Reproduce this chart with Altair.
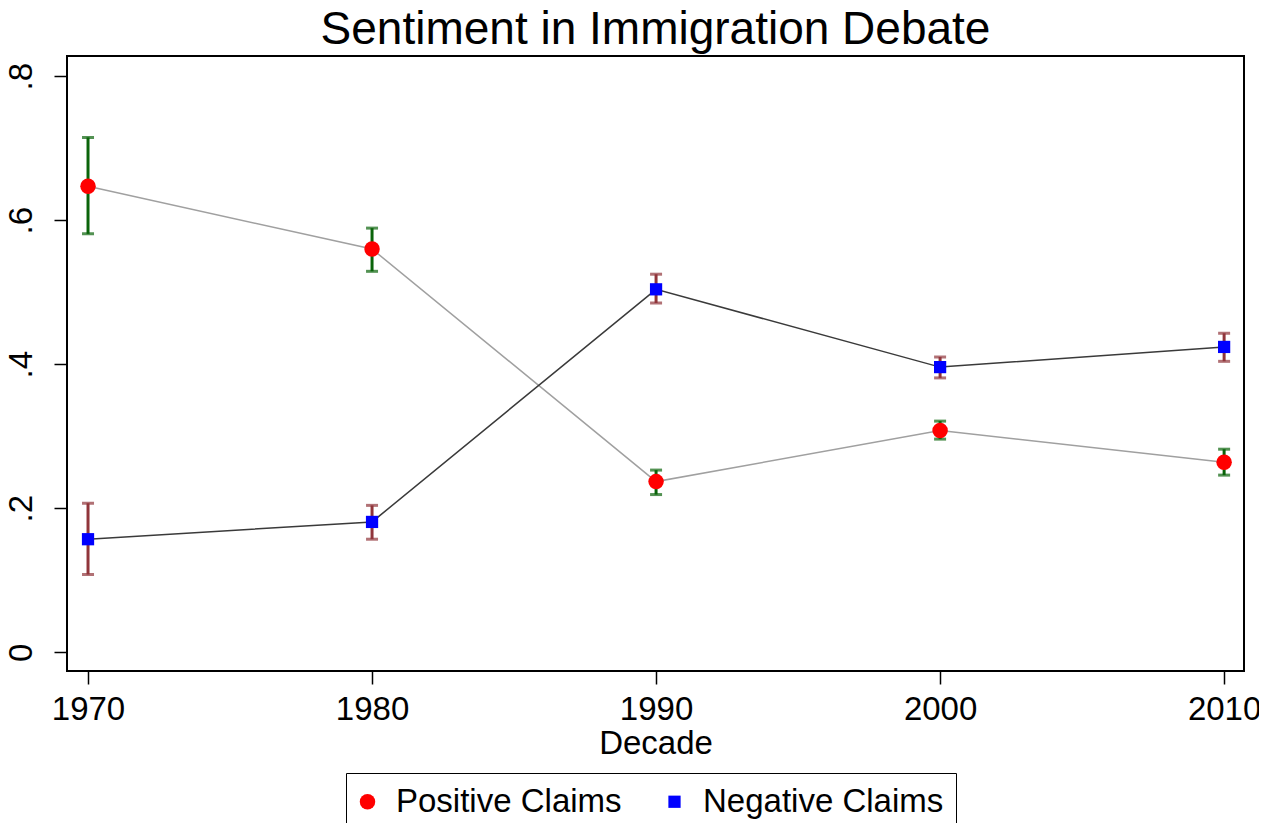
import altair as alt
import pandas as pd

decades = [1970, 1980, 1990, 2000, 2010]
pos_mean = [0.647, 0.560, 0.237, 0.308, 0.264]
pos_lo = [0.581, 0.529, 0.219, 0.296, 0.246]
pos_hi = [0.715, 0.589, 0.253, 0.321, 0.282]
neg_mean = [0.157, 0.181, 0.504, 0.396, 0.424]
neg_lo = [0.108, 0.157, 0.485, 0.381, 0.404]
neg_hi = [0.207, 0.204, 0.525, 0.410, 0.443]
series_names = ["Positive Claims", "Negative Claims"]

rows = []
for d, m, lo, hi in zip(decades, pos_mean, pos_lo, pos_hi):
    rows.append({"decade": d, "series": series_names[0], "mean": m, "lo": lo, "hi": hi})
for d, m, lo, hi in zip(decades, neg_mean, neg_lo, neg_hi):
    rows.append({"decade": d, "series": series_names[1], "mean": m, "lo": lo, "hi": hi})
df = pd.DataFrame(rows)

FONT = "Liberation Sans"
FS = 33

x = alt.X("decade:Q", title="Decade",
          scale=alt.Scale(domain=[1969.26, 2010.7], nice=False, zero=False),
          axis=alt.Axis(values=decades, format="d"))
y = alt.Y("mean:Q", title=None,
          scale=alt.Scale(domain=[-0.026, 0.828], nice=False, zero=False),
          axis=alt.Axis(values=[0, 0.2, 0.4, 0.6, 0.8], labelAngle=-90,
                        labelExpr="datum.value == 0 ? '0' : replace(format(datum.value, '.1f'), '0.', '.')"))

base = alt.Chart(df)

line_colors = {"Positive Claims": "#a0a0a0", "Negative Claims": "#3a3a3a"}
err_colors = {"Positive Claims": "#0a640a", "Negative Claims": "#90353b"}

layers = []
for s in series_names:
    layers.append(
        base.transform_filter(alt.datum.series == s)
        .mark_line(color=line_colors[s], strokeWidth=1.5)
        .encode(x=x, y=y)
    )
for s in series_names:
    f = base.transform_filter(alt.datum.series == s)
    layers.append(
        f.mark_rule(color=err_colors[s], strokeWidth=3)
        .encode(x=x, y=alt.Y("lo:Q"), y2="hi:Q")
    )
    layers.append(
        f.mark_tick(color=err_colors[s], thickness=3, size=12, orient="horizontal")
        .encode(x=x, y=alt.Y("lo:Q"))
    )
    layers.append(
        f.mark_tick(color=err_colors[s], thickness=3, size=12, orient="horizontal")
        .encode(x=x, y=alt.Y("hi:Q"))
    )

legend = alt.Legend(title=None, orient="none", legendX=279, legendY=717,
                    direction="horizontal", strokeColor="black", padding=12,
                    labelFont=FONT, labelFontSize=FS, labelColor="black", labelLimit=0,
                    labelOffset=12, columnPadding=43, symbolStrokeWidth=0, symbolOffset=-7)

points = base.mark_point(filled=True, opacity=1).encode(
    x=x, y=y,
    color=alt.Color("series:N", scale=alt.Scale(domain=series_names, range=["#ff0000", "#0000ff"]), legend=legend),
    shape=alt.Shape("series:N", scale=alt.Scale(domain=series_names, range=["circle", "square"]), legend=legend),
    size=alt.Size("series:N", scale=alt.Scale(domain=series_names, range=[240, 150]), legend=legend),
)
layers.append(points)

chart = alt.layer(*layers).properties(
    width=1177, height=615,
    title=alt.TitleParams("Sentiment in Immigration Debate", font=FONT, fontSize=46,
                          fontWeight="normal", color="black", baseline="bottom", offset=2, dy=46),
    autosize=alt.AutoSizeParams(type="none"),
    padding={"left": 59, "top": 48, "right": 15, "bottom": 152},
).configure_view(
    stroke="black", strokeWidth=2
).configure_axis(
    grid=False, domain=False, ticks=True, tickColor="black", tickWidth=1.5, tickSize=13,
    labelFont=FONT, labelFontSize=FS, labelColor="black", labelPadding=9, labelLimit=0,
    titleFont=FONT, titleFontSize=FS, titleColor="black", titleFontWeight="normal", titlePadding=1,
).configure_axisY(
    labelPadding=16
)

chart.save("out.html", embed_options={"renderer": "svg", "actions": False})
